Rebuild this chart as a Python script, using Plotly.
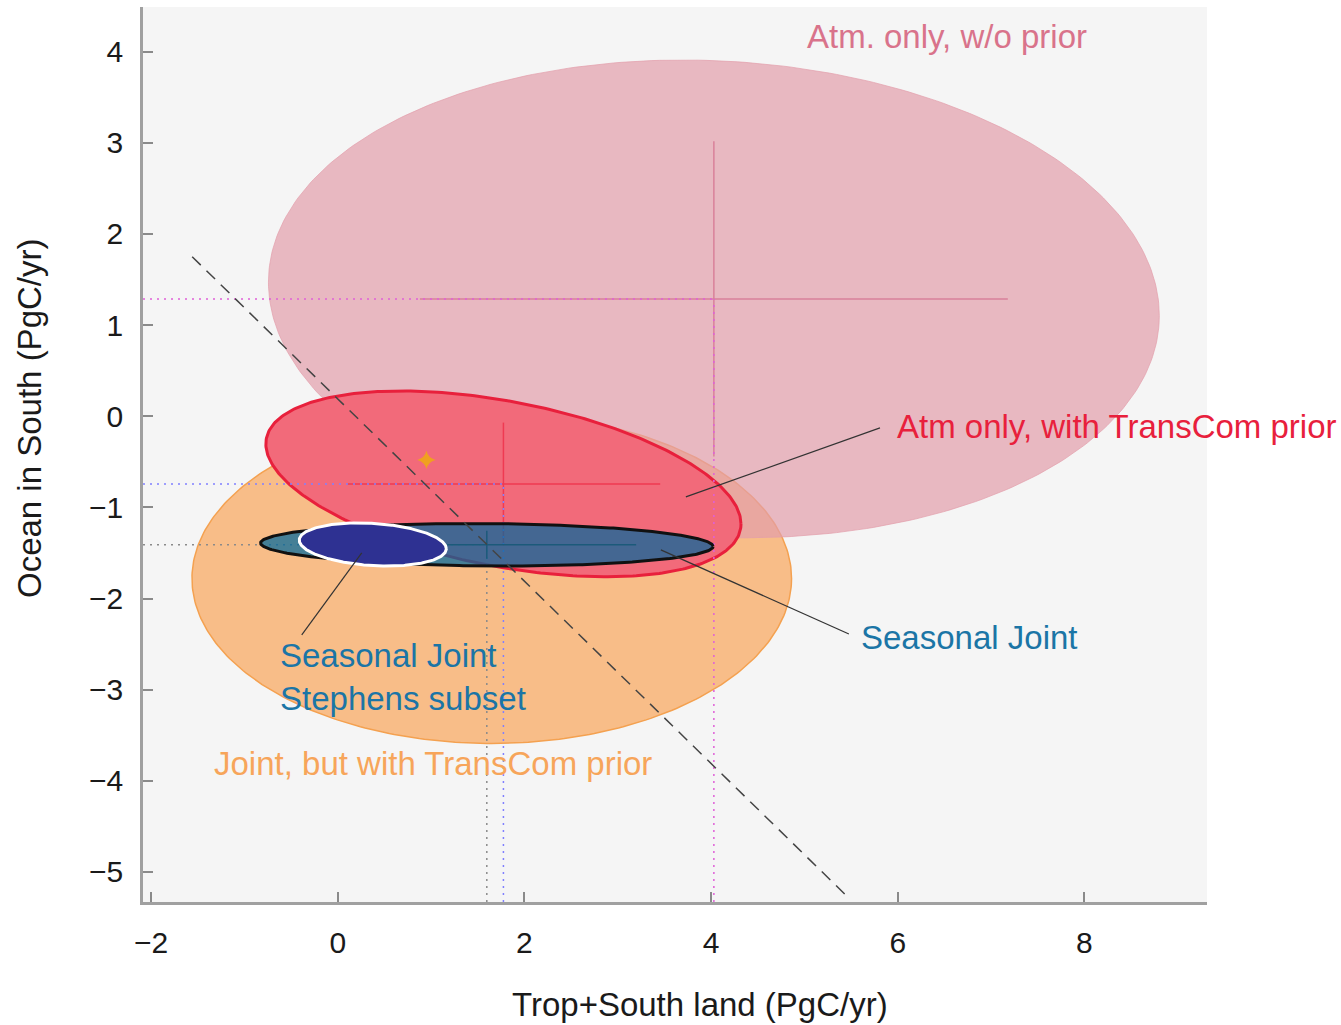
import numpy as np
import plotly.graph_objects as go

# Southern carbon flux estimates (PgC/yr): mean, 1-sigma and land/ocean correlation
case_names = [
    "Joint, but with TransCom prior",
    "Atm. only, w/o prior",
    "Atm only, with TransCom prior",
    "Seasonal Joint",
    "Seasonal Joint Stephens subset",
]
land_mean = [1.65, 4.03, 1.775, 1.597, 0.375]
ocean_mean = [-1.78, 1.287, -0.743, -1.41, -1.407]
land_sigma = [2.12, 3.15, 1.68, 1.60, 0.52]
ocean_sigma = [1.195, 1.73, 0.673, 0.154, 0.156]
correlation = [0.0, -0.07, -0.43, -0.08, -0.20]

# TransCom prior point
prior_land = [0.95]
prior_ocean = [-0.48]

# line of constant total (land + ocean) flux
total_flux = 0.19
total_line_land = [-1.56, 5.46]

# label leader lines (land, ocean) endpoints
leader_atm_prior = ([3.73, 5.81], [-0.885, -0.128])
leader_seasonal = ([3.462, 5.477], [-1.467, -2.389])
leader_stephens = ([0.257, -0.386], [-1.500, -2.399])

x_range = [-2.087, 9.314]
y_range = [-5.33, 4.49]
x_ticks = [-2, 0, 2, 4, 6, 8]
y_ticks = [-5, -4, -3, -2, -1, 0, 1, 2, 3, 4]

# 68.3% joint confidence region scale for two dimensions
K68 = np.sqrt(-2.0 * np.log(1.0 - 0.6827))

FONT = "Liberation Sans, Arial, Helvetica, sans-serif"


def ellipse(i, n=361):
    t = np.linspace(0, 2 * np.pi, n)
    r = correlation[i]
    x = land_mean[i] + K68 * land_sigma[i] * np.cos(t)
    y = ocean_mean[i] + K68 * ocean_sigma[i] * (r * np.cos(t) + np.sqrt(1 - r * r) * np.sin(t))
    return x, y


fig = go.Figure()


def add_ellipse(i, fill, line_color, line_width):
    x, y = ellipse(i)
    fig.add_trace(go.Scatter(
        x=x, y=y, mode="lines", fill="toself", fillcolor=fill,
        line=dict(color=line_color, width=line_width),
        hoverinfo="skip", showlegend=False, name=case_names[i],
    ))


def add_crosshair(i, color):
    fig.add_trace(go.Scatter(
        x=[land_mean[i]], y=[ocean_mean[i]], mode="markers",
        marker=dict(size=1, opacity=0),
        error_x=dict(type="data", array=[land_sigma[i]], color=color, thickness=1.5, width=0),
        error_y=dict(type="data", array=[ocean_sigma[i]], color=color, thickness=1.5, width=0),
        hoverinfo="skip", showlegend=False,
    ))


def add_guides(i, color):
    dash = "2px,5px"
    fig.add_trace(go.Scatter(
        x=[x_range[0], land_mean[i]], y=[ocean_mean[i], ocean_mean[i]], mode="lines",
        line=dict(color=color, width=1.5, dash=dash), hoverinfo="skip", showlegend=False,
    ))
    fig.add_trace(go.Scatter(
        x=[land_mean[i], land_mean[i]], y=[y_range[0], ocean_mean[i]], mode="lines",
        line=dict(color=color, width=1.5, dash=dash), hoverinfo="skip", showlegend=False,
    ))


# joint with TransCom prior (bottom layer)
add_ellipse(0, "#f8bd88", "#f4a150", 1.5)
# atmosphere only, no prior (translucent, over the orange one)
add_ellipse(1, "rgba(226,158,171,0.7)", "rgba(226,158,171,0.7)", 1)
add_crosshair(1, "#d9809a")
# atmosphere only with TransCom prior
add_ellipse(2, "#f26a7a", "#e8203c", 3)
add_crosshair(2, "#ef3a52")

# dotted guides from the axes to each centre
add_guides(1, "#e060d8")
add_guides(2, "#8080ff")
add_guides(3, "#8a8a8a")

# seasonal joint
add_ellipse(3, "rgba(0,103,155,0.72)", "#111111", 3)
add_crosshair(3, "#1c5a7a")
# seasonal joint, Stephens subset
add_ellipse(4, "#2e3192", "#ffffff", 3)

# constant total flux line
fig.add_trace(go.Scatter(
    x=total_line_land, y=[total_flux - v for v in total_line_land], mode="lines",
    line=dict(color="#444444", width=1.5, dash="12px,8px"), hoverinfo="skip", showlegend=False,
))

# prior marker
fig.add_trace(go.Scatter(
    x=prior_land, y=prior_ocean, mode="markers",
    marker=dict(symbol="star-diamond", size=13, color="#f0a020", line=dict(width=0)),
    hoverinfo="skip", showlegend=False,
))

# leader lines
for lx, ly in (leader_atm_prior, leader_seasonal, leader_stephens):
    fig.add_trace(go.Scatter(
        x=lx, y=ly, mode="lines", line=dict(color="#333333", width=1.2),
        hoverinfo="skip", showlegend=False,
    ))

labels = [
    (case_names[1], 5.01, 4.162, "#d9738b"),
    (case_names[2], 5.97, -0.117, "#e8203c"),
    (case_names[3], 5.58, -2.432, "#1b75a6"),
    ("Seasonal Joint<br>Stephens subset", -0.64, -2.86, "#1b75a6"),
    (case_names[0], -1.35, -3.815, "#f7a55a"),
]
for text, x, y, color in labels:
    fig.add_annotation(
        x=x, y=y, xref="x", yref="y", text=text, showarrow=False,
        xanchor="left", yanchor="middle", align="left",
        font=dict(family=FONT, size=33, color=color),
    )

# axis titles
fig.add_annotation(
    x=0.5235, y=-0.115, xref="paper", yref="paper", text="Trop+South land (PgC/yr)",
    showarrow=False, xanchor="center", yanchor="middle",
    font=dict(family=FONT, size=33, color="#1a1a1a"),
)
fig.add_annotation(
    x=-0.106, y=0.541, xref="paper", yref="paper", text="Ocean in South (PgC/yr)",
    showarrow=False, xanchor="center", yanchor="middle", textangle=-90,
    font=dict(family=FONT, size=33, color="#1a1a1a"),
)

axis_common = dict(
    showgrid=False, zeroline=False, showline=True, linecolor="#a0a0a0", linewidth=2.5,
    ticks="inside", ticklen=10, tickwidth=1.5, tickcolor="#8a8a8a",
    tickfont=dict(family=FONT, size=30, color="#1a1a1a"),
)

fig.update_layout(
    width=1341, height=1025,
    margin=dict(l=143, r=134, t=7, b=123),
    paper_bgcolor="#ffffff", plot_bgcolor="#f5f5f5",
    font=dict(family=FONT),
    showlegend=False,
    xaxis=dict(range=x_range, tickvals=x_ticks, ticklabelstandoff=12, **axis_common),
    yaxis=dict(range=y_range, tickvals=y_ticks, ticklabelstandoff=11, **axis_common),
)

fig.write_html("out.html")
